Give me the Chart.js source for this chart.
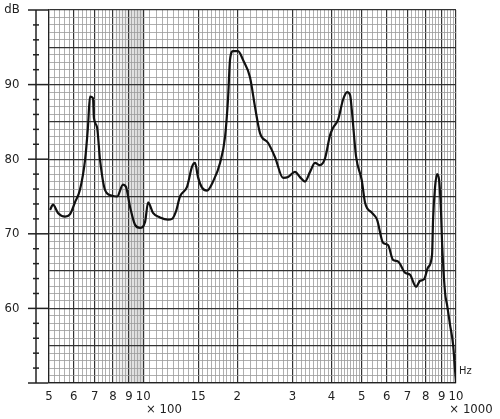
<!DOCTYPE html>
<html>
<head>
<meta charset="utf-8">
<script src="https://cdn.jsdelivr.net/npm/chart.js@4"></script>
<style>
  html, body { margin: 0; padding: 0; background: #fff; }
  #wrap { width: 500px; height: 419px; }
</style>
</head>
<body>
<div id="wrap"><canvas id="chart" width="500" height="419"></canvas></div>
<script>
// frequency (Hz) and level (dB)
const freqs = [504, 515, 534, 563, 583, 605, 628, 652, 666, 676, 691, 696, 712, 728, 755, 795, 825, 862, 881, 908,
    942, 977, 1014, 1037, 1075, 1132, 1200, 1237, 1273, 1311, 1381, 1433, 1465, 1497, 1542, 1600, 1672, 1761, 1827, 1867,
    1895, 1937, 2011, 2086, 2195, 2278, 2363, 2506, 2638, 2800, 2905, 3057, 3172, 3291, 3415, 3542, 3676, 3813, 3956, 4044,
    4198, 4356, 4486, 4587, 4644, 4794, 4997, 5118, 5391, 5592, 5845, 6063, 6291, 6527, 6871, 7130, 7452, 7675, 7905, 8142,
    8385, 8447, 8573, 8700, 8830, 8959, 9026, 9227, 9362, 9571, 9784, 9927, 10000];
const levels = [73.2, 73.9, 72.8, 72.3, 72.6, 74.2, 75.9, 79.9, 84.3, 88.4, 88.2, 85.5, 84.3, 79.9, 75.9, 75.1, 75.0, 76.6, 76.3, 73.6,
    71.2, 70.8, 71.6, 74.2, 72.8, 72.2, 71.9, 72.0, 73.0, 75.0, 76.3, 79.0, 79.5, 77.6, 76.2, 75.8, 77.0, 79.5, 83.0, 88.0,
    93.3, 94.5, 94.5, 93.3, 91.0, 87.0, 83.5, 82.2, 80.3, 77.5, 77.6, 78.3, 77.6, 77.0, 78.3, 79.5, 79.2, 80.1, 83.2, 84.2,
    85.3, 88.0, 89.0, 88.6, 86.6, 80.3, 77.2, 74.2, 72.8, 71.9, 68.8, 68.5, 66.5, 66.3, 64.8, 64.5, 62.9, 63.7, 63.9, 65.5,
    67.2, 71.9, 76.3, 78.0, 77.2, 72.8, 68.8, 62.1, 60.5, 57.8, 55.2, 51.8, 50.0];

// tick labels
const xLabels = {500: '5', 600: '6', 700: '7', 800: '8', 900: '9', 1000: '10', 1500: '15', 2000: '2', 3000: '3',
    4000: '4', 5000: '5', 6000: '6', 7000: '7', 8000: '8', 9000: '9', 10000: '10'};
const yLabels = {60: '60', 70: '70', 80: '80', 90: '90', 100: 'dB'};

const FONT = "'Liberation Sans Narrow', 'DejaVu Sans Condensed', sans-serif";

// log-paper grid values
function xGrid() {
    const v = [];
    for (let f = 500; f < 1000; f += 20) v.push(f);
    for (let f = 1000; f < 2000; f += 50) v.push(f);
    for (let f = 2000; f < 5000; f += 100) v.push(f);
    for (let f = 5000; f <= 10000; f += 200) v.push(f);
    return v;
}

const paperPlugin = {
    id: 'paper',
    beforeDraw(chart) {
        const { ctx, chartArea, scales } = chart;
        ctx.save();
        ctx.fillStyle = '#fff';
        ctx.fillRect(0, 0, chart.width, chart.height);
        // shaded band 800-1000 Hz
        const x0 = scales.x.getPixelForValue(810);
        const x1 = scales.x.getPixelForValue(1000);
        const g = ctx.createLinearGradient(x0, 0, x1, 0);
        g.addColorStop(0, 'rgba(0,0,0,0.04)');
        g.addColorStop(1, 'rgba(0,0,0,0.16)');
        ctx.fillStyle = g;
        ctx.fillRect(x0, chartArea.top, x1 - x0, chartArea.bottom - chartArea.top);
        ctx.restore();
    },
    afterDraw(chart) {
        const { ctx, chartArea, scales } = chart;
        const y = scales.y;
        ctx.save();
        // ruler on the left
        ctx.strokeStyle = '#222';
        ctx.lineWidth = 1.5;
        ctx.beginPath();
        ctx.moveTo(36, y.getPixelForValue(100));
        ctx.lineTo(36, y.getPixelForValue(50));
        ctx.stroke();
        for (let v = 50; v <= 100; v += 2) {
            const py = y.getPixelForValue(v);
            ctx.beginPath();
            if (v % 10 === 0) { ctx.moveTo(28, py); ctx.lineTo(48, py); }
            else { ctx.moveTo(33, py); ctx.lineTo(39, py); }
            ctx.stroke();
        }
        ctx.fillStyle = '#222';
        ctx.font = '13px ' + FONT;
        ctx.textBaseline = 'middle';
        ctx.textAlign = 'center';
        Object.keys(yLabels).forEach(v => {
            ctx.fillText(yLabels[v], 12, y.getPixelForValue(+v));
        });
        ctx.fillText('\u00d7 100', 164, 410);
        ctx.fillText('\u00d7 1000', 471, 410);
        ctx.font = '11px ' + FONT;
        ctx.textAlign = 'left';
        ctx.fillText('Hz', 459, chartArea.bottom - 12);
        ctx.restore();
    }
};

const ctx = document.getElementById('chart').getContext('2d');
new Chart(ctx, {
    type: 'line',
    data: {
        datasets: [{
            data: freqs.map((f, i) => ({ x: f, y: levels[i] })),
            borderColor: '#111',
            borderWidth: 2.2,
            pointRadius: 0,
            cubicInterpolationMode: 'monotone',
            fill: false
        }]
    },
    options: {
        responsive: false,
        animation: false,
        layout: { padding: { top: 10, right: 44, left: 0, bottom: 0 } },
        plugins: { legend: { display: false }, tooltip: { enabled: false } },
        scales: {
            x: {
                type: 'logarithmic',
                min: 500,
                max: 10000,
                afterBuildTicks: s => { s.ticks = xGrid().map(v => ({ value: v })); },
                afterFit: s => { s.height = 36; },
                border: { display: true, color: '#222', width: 1.2 },
                grid: {
                    drawTicks: false,
                    color: c => (c.tick && xLabels[c.tick.value] !== undefined) ? '#333' : '#9a9a9a',
                    lineWidth: c => (c.tick && xLabels[c.tick.value] !== undefined) ? 1.2 : 0.8
                },
                ticks: {
                    autoSkip: false,
                    maxRotation: 0,
                    padding: 6,
                    color: '#222',
                    font: { family: FONT, size: 13 },
                    callback: v => xLabels[v] !== undefined ? xLabels[v] : ''
                }
            },
            y: {
                min: 50,
                max: 100,
                afterBuildTicks: s => {
                    const t = [];
                    for (let v = 50; v <= 100; v++) t.push({ value: v });
                    s.ticks = t;
                },
                afterFit: s => { s.width = 49; },
                border: { display: true, color: '#222', width: 1.2 },
                grid: {
                    drawTicks: false,
                    color: c => (c.tick && c.tick.value % 5 === 0) ? '#333' : '#9a9a9a',
                    lineWidth: c => (c.tick && c.tick.value % 5 === 0) ? 1.2 : 0.8
                },
                ticks: { display: false }
            }
        }
    },
    plugins: [paperPlugin]
});
</script>
</body>
</html>
